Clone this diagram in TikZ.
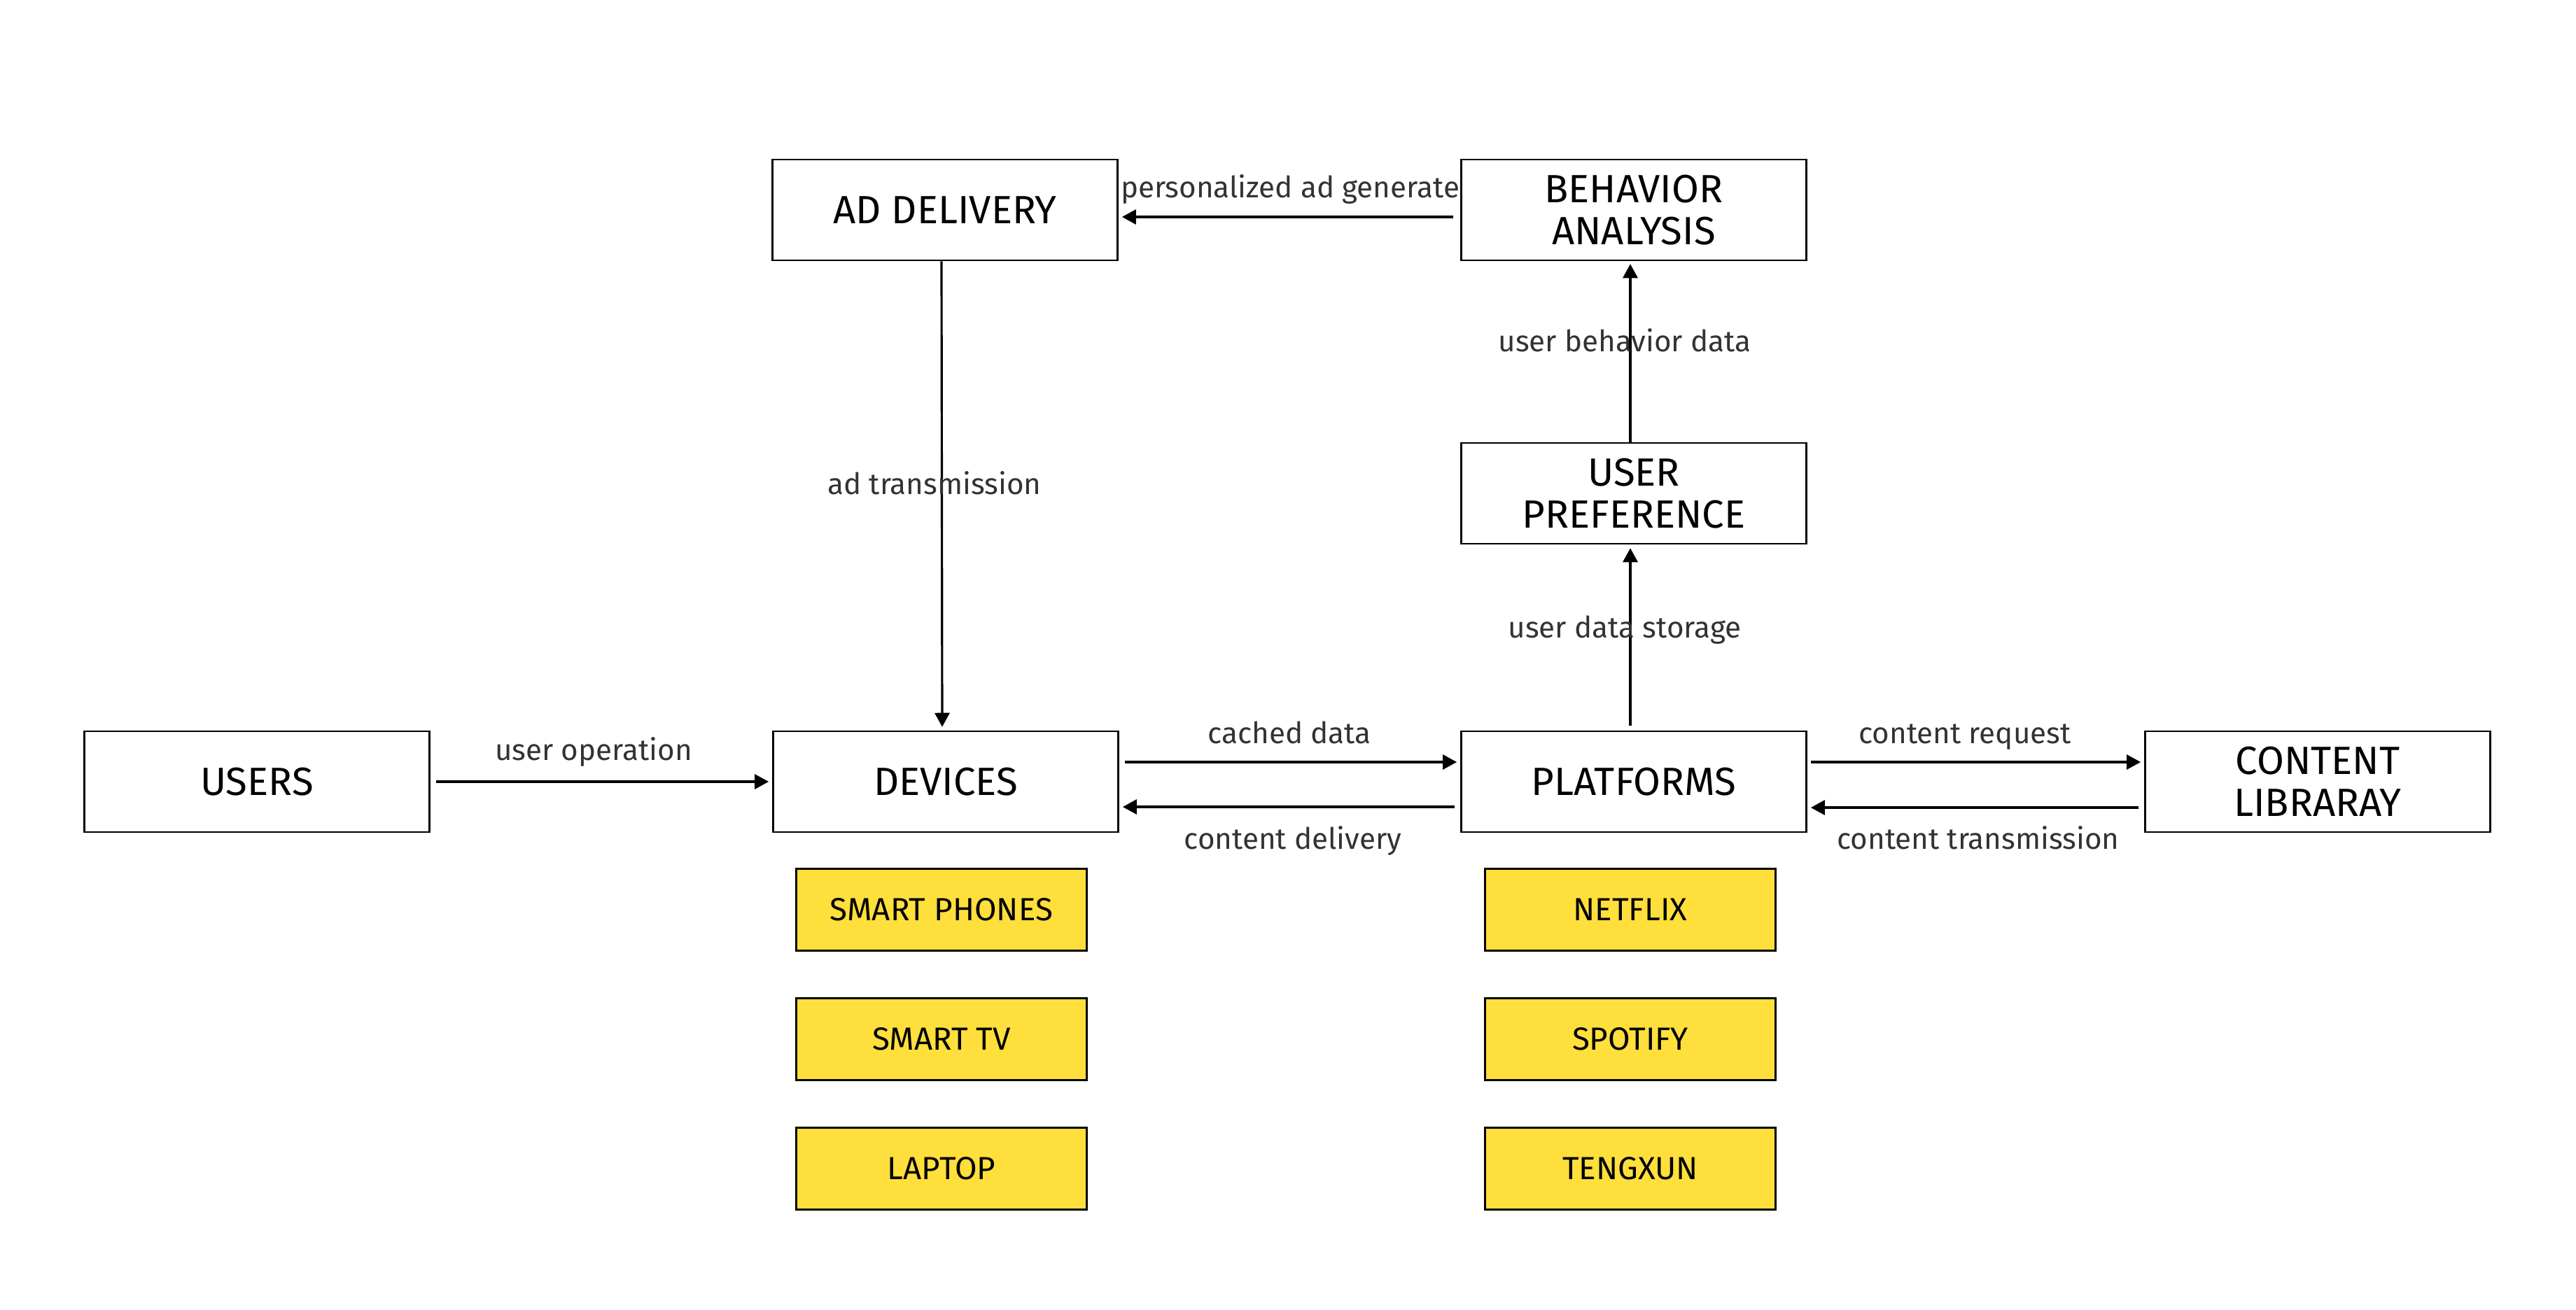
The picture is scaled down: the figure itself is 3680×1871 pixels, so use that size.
\documentclass[tikz,border=0pt]{standalone}
\usepackage{fontspec}
\setmainfont{Fira Sans}
\usetikzlibrary{arrows.meta}
\definecolor{boxyellow}{RGB}{255,223,59}
\definecolor{labelgray}{RGB}{51,51,51}
\tikzset{
  mainbox/.style={draw=black, line width=0.7pt, fill=white, minimum width=4.93cm, minimum height=1.44cm, inner sep=0pt, align=center, font=\fontsize{16}{17}\selectfont, text=black},
  ybox/.style={draw=black, line width=0.7pt, fill=boxyellow, minimum width=4.15cm, minimum height=1.17cm, inner sep=0pt, font=\fontsize{13}{14}\selectfont, text=black},
  conn/.style={line width=0.9pt, -{Triangle[length=2mm,width=2.1mm]}},
  elabel/.style={font=\fontsize{12}{13}\selectfont, text=labelgray, anchor=base, inner sep=0pt}
}
\begin{document}
\begin{tikzpicture}[x=0.01cm,y=-0.01cm]
\useasboundingbox (0,0) rectangle (3680,1871);
% main boxes
\node[mainbox] (ad)  at (1350,300)  {AD DELIVERY};
\node[mainbox] (beh) at (2334,300)  {BEHAVIOR\\ANALYSIS};
\node[mainbox] (pref) at (2334,705) {USER\\PREFERENCE};
\node[mainbox] (users) at (367,1117) {USERS};
\node[mainbox] (dev) at (1351,1117) {DEVICES};
\node[mainbox] (plat) at (2334,1117) {PLATFORMS};
\node[mainbox] (lib) at (3311,1117) {CONTENT\\LIBRARAY};
% yellow boxes
\node[ybox] (phones) at (1345,1300) {SMART PHONES};
\node[ybox] (tv)     at (1345,1485) {SMART TV};
\node[ybox] (laptop) at (1345,1670) {LAPTOP};
\node[ybox] (netflix) at (2329,1300) {NETFLIX};
\node[ybox] (spotify) at (2329,1485) {SPOTIFY};
\node[ybox] (tengxun) at (2329,1670) {TENGXUN};
% connectors
\draw[conn] ([xshift=-0.1cm,yshift=-0.1cm]beh.west) -- ([xshift=0.05cm,yshift=-0.1cm]ad.east);
\draw[conn] ([xshift=-0.05cm]ad.south) -- ([xshift=-0.05cm,yshift=0.05cm]dev.north);
\draw[conn] ([xshift=0.08cm]users.east) -- ([xshift=-0.05cm]dev.west);
\draw[conn] ([xshift=0.08cm,yshift=0.28cm]dev.east) -- ([xshift=-0.05cm,yshift=0.28cm]plat.west);
\draw[conn] ([xshift=-0.08cm,yshift=-0.36cm]plat.west) -- ([xshift=0.05cm,yshift=-0.36cm]dev.east);
\draw[conn] ([xshift=0.05cm,yshift=0.28cm]plat.east) -- ([xshift=-0.05cm,yshift=0.28cm]lib.west);
\draw[conn] ([xshift=-0.08cm,yshift=-0.37cm]lib.west) -- ([xshift=0.05cm,yshift=-0.37cm]plat.east);
\draw[conn] ([xshift=-0.05cm,yshift=0.07cm]plat.north) -- ([xshift=-0.05cm,yshift=-0.05cm]pref.south);
\draw[conn] ([xshift=-0.05cm]pref.north) -- ([xshift=-0.05cm,yshift=-0.04cm]beh.south);
% labels
\node[elabel] (l1) at (1843,282) {personalized ad generate};
\node[elabel] (l2) at (1335,706) {ad transmission};
\node[elabel] (l3) at (2321,502) {user behavior data};
\node[elabel] (l4) at (2321,911) {user data storage};
\node[elabel] (l5) at (848,1086) {user operation};
\node[elabel] (l6) at (1842,1062) {cached data};
\node[elabel] (l7) at (1847,1213) {content delivery};
\node[elabel] (l8) at (2807,1062) {content request};
\node[elabel] (l9) at (2826,1213) {content transmission};
\end{tikzpicture}
\end{document}
